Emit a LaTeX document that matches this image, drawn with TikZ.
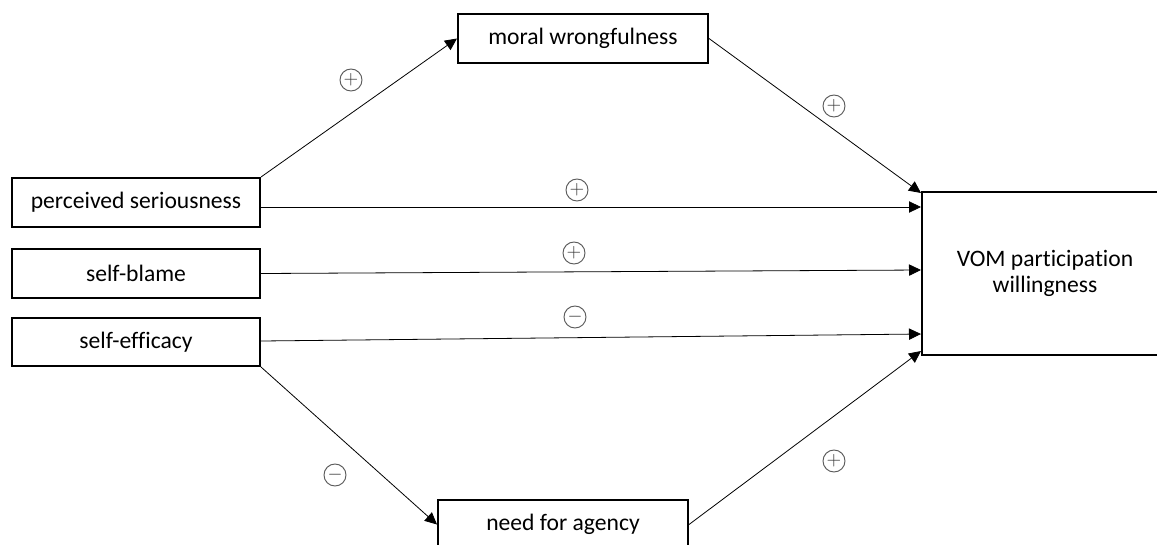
\documentclass[tikz,border=0pt]{standalone}
\usepackage{fontspec}
\setmainfont{Carlito}[Ligatures=NoCommon]
\usetikzlibrary{arrows.meta,calc}
\begin{document}
\begin{tikzpicture}[x=0.75pt,y=-0.75pt,
  box/.style={draw=black,line width=1.5pt,rectangle,inner sep=0pt,
    font=\fontsize{17.7}{19.5}\selectfont,align=center},
  arr/.style={line width=0.6pt,-{Triangle[length=9pt,width=8.5pt]}},
  sign/.style={circle,draw=black!65,line width=0.7pt,inner sep=0pt,
    minimum size=16.5pt,text=black!80,font=\fontsize{14.5}{14.5}\selectfont}]
\clip (0,0) rectangle (1157,544);
\fill[white] (0,0) rectangle (1157,544);
\node[box,minimum width=187.5pt,minimum height=36.75pt] (mw) at (583,38.5) {moral wrongfulness};
\node[box,minimum width=186pt,minimum height=36.75pt] (ps) at (136,202.5) {perceived seriousness};
\node[box,minimum width=186pt,minimum height=36.75pt] (sb) at (136,273.5) {self-blame};
\node[box,minimum width=186pt,minimum height=36pt] (se) at (136,342) {self-efficacy};
\node[box,minimum width=184.5pt,minimum height=122.25pt] (vom) at (1045,273.5) {VOM participation\\willingness};
\node[box,minimum width=187.5pt,minimum height=36.75pt] (nfa) at (563,524.5) {need for agency};
\draw[arr] (ps.north east) -- (mw.west);
\draw[arr] (mw.east) -- ($(vom.north west)+(0,2)$);
\draw[arr] ($(ps.east)+(0,4.5)$) -- ($(vom.west)+(0,-66.5)$);
\draw[arr] (sb.east) -- ($(vom.west)+(0,-3.5)$);
\draw[arr] ($(se.east)+(0,-1)$) -- ($(vom.west)+(0,60.5)$);
\draw[arr] (se.south east) -- (nfa.west);
\draw[arr] (nfa.east) -- ($(vom.south west)+(0,-5)$);
\node[sign] (s1) at (351,80) {$+$};
\node[sign] (s2) at (834,106) {$+$};
\node[sign] (s3) at (577,190) {$+$};
\node[sign] (s4) at (574,253) {$+$};
\node[sign] (s5) at (575,317) {$-$};
\node[sign] (s6) at (335,475) {$-$};
\node[sign] (s7) at (834,461) {$+$};
\end{tikzpicture}
\end{document}
